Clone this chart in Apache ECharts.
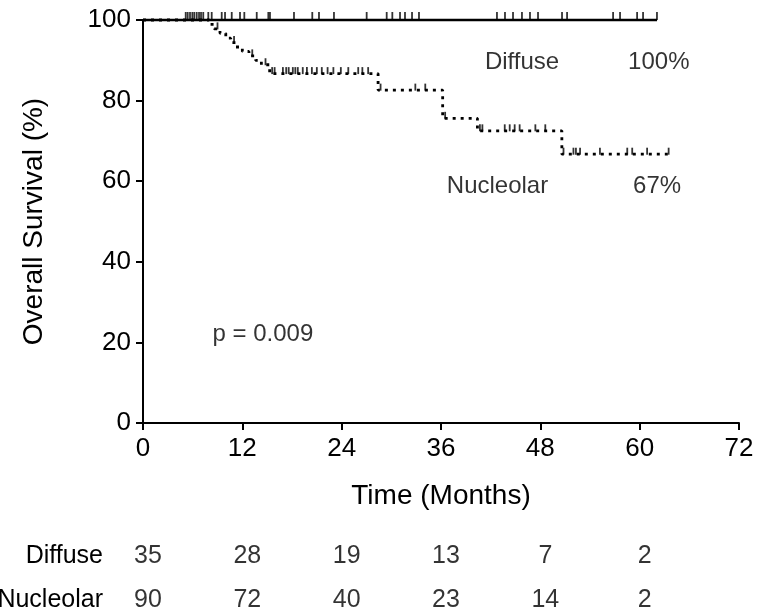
<!DOCTYPE html>
<html>
<head>
<meta charset="utf-8">
<script src="https://cdn.jsdelivr.net/npm/echarts@6/dist/echarts.min.js"></script>
<style>
html,body{margin:0;padding:0;background:#fff;}
#chart{width:767px;height:612px;}
</style>
</head>
<body>
<div id="chart"></div>
<script>
// ---- data ----
const xTicks = [0, 12, 24, 36, 48, 60, 72];
const diffuseTimes = [0, 62.1];
const diffuseSurv = [100, 100];
const diffuseCensor = [5.16, 5.40, 5.68, 5.96, 6.20, 6.49, 6.77, 7.01, 7.28, 7.89, 8.30, 9.51, 9.91, 10.72, 11.72,
  12.24, 13.74, 15.14, 15.34, 18.24, 20.45, 21.26, 23.07, 27.02, 29.44, 30.12, 31.05, 31.65, 32.50, 33.34,
  42.76, 43.73, 44.70, 45.78, 46.75, 47.72, 50.62, 51.23, 56.79, 57.63, 59.69, 60.41, 62.09];
const nucTimes = [0, 8.0, 8.6, 9.3, 10.0, 10.6, 11.2, 12.0, 12.8, 13.6, 14.3, 15.3, 28.4, 36.2, 40.4, 50.6, 63.7];
const nucSurv = [100, 98.9, 97.8, 96.7, 95.5, 94.4, 93.3, 92.2, 91.1, 90.0, 88.9, 86.7, 82.6, 75.6, 72.5, 66.7, 66.7];
const nucCensor = [9.0, 11.0, 13.2, 14.8, 15.6, 15.9, 16.9, 17.3, 17.6, 18.1, 18.4, 18.7, 19.3, 19.8, 20.4, 21.0, 21.6,
  22.3, 23.0, 23.9, 24.8, 26.0, 26.5, 27.2, 28.7, 32.9, 34.1, 36.5, 40.7, 41.0, 43.7, 44.3, 44.9, 45.5, 47.4, 48.6,
  50.8, 52.0, 52.3, 52.8, 55.2, 58.5, 59.1, 60.9, 63.5];
const riskTimes = [0, 12, 24, 36, 48, 60];
const riskGroups = ['Diffuse', 'Nucleolar'];
const riskDiffuse = [35, 28, 19, 13, 7, 2];
const riskNucleolar = [90, 72, 40, 23, 14, 2];
const annotTexts = ['Diffuse', '100%', 'Nucleolar', '67%', 'p = 0.009'];
const annotX = [41.3, 58.6, 36.7, 59.2, 8.4];
const annotY = [89.5, 89.5, 58.8, 58.8, 21.9];

// ---- helpers ----
function kmAt(times, surv, t) {
  let s = surv[0];
  for (let i = 0; i < times.length; i++) { if (times[i] <= t) s = surv[i]; }
  return s;
}
const FONT = '"Liberation Sans", Arial, Helvetica, sans-serif';
const INK = '#000';

const chart = echarts.init(document.getElementById('chart'), null, {renderer: 'canvas'});
const option = {
  animation: false,
  backgroundColor: '#fff',
  textStyle: {fontFamily: FONT, color: INK},
  grid: [
    {left: 143, right: 28, top: 20, bottom: 189, containLabel: false, outerBoundsMode: 'none'},
    {left: 143, right: 28, top: 556, height: 44, containLabel: false, outerBoundsMode: 'none'}
  ],
  xAxis: [
    {type: 'value', gridIndex: 0, min: 0, max: 72, interval: 12,
     name: 'Time (Months)', nameLocation: 'middle', nameGap: 59,
     nameTextStyle: {fontSize: 28, color: INK, fontFamily: FONT},
     axisLine: {show: true, lineStyle: {color: INK, width: 2}},
     axisTick: {show: true, length: 7, lineStyle: {color: INK, width: 2}},
     axisLabel: {fontSize: 26, color: INK, margin: 13, fontFamily: FONT},
     splitLine: {show: false}},
    {type: 'value', gridIndex: 1, min: 0, max: 72, interval: 12, show: false}
  ],
  yAxis: [
    {type: 'value', gridIndex: 0, min: 0, max: 100, interval: 20,
     name: 'Overall Survival (%)', nameLocation: 'middle', nameGap: 95,
     nameTextStyle: {fontSize: 28, color: INK, fontFamily: FONT},
     axisLine: {show: true, lineStyle: {color: INK, width: 2}},
     axisTick: {show: true, length: 7, lineStyle: {color: INK, width: 2}},
     axisLabel: {fontSize: 26, color: INK, margin: 12, fontFamily: FONT},
     splitLine: {show: false}},
    {type: 'category', gridIndex: 1, data: riskGroups, inverse: true, boundaryGap: false,
     axisLine: {show: false}, axisTick: {show: false},
     axisLabel: {fontSize: 25, color: INK, margin: 40, fontFamily: FONT},
     splitLine: {show: false}}
  ],
  series: [
    {type: 'line', name: 'Diffuse', xAxisIndex: 0, yAxisIndex: 0, step: 'end', showSymbol: false, symbol: 'none', clip: false,
     lineStyle: {color: INK, width: 2.5},
     data: diffuseTimes.map((t, i) => [t, diffuseSurv[i]])},
    {type: 'scatter', name: 'Diffuse censored', xAxisIndex: 0, yAxisIndex: 0, clip: false,
     symbol: 'rect', symbolSize: [1.8, 8], symbolOffset: [0, -4],
     itemStyle: {color: INK},
     data: diffuseCensor.map(t => [t, kmAt(diffuseTimes, diffuseSurv, t)])},
    {type: 'line', name: 'Nucleolar', xAxisIndex: 0, yAxisIndex: 0, step: 'end', showSymbol: false, symbol: 'none', clip: false,
     lineStyle: {color: INK, width: 2.8, type: [3, 5]},
     data: nucTimes.map((t, i) => [t, nucSurv[i]])},
    {type: 'scatter', name: 'Nucleolar censored', xAxisIndex: 0, yAxisIndex: 0, clip: false,
     symbol: 'rect', symbolSize: [1.8, 7], symbolOffset: [0, -3],
     itemStyle: {color: INK},
     data: nucCensor.map(t => [t, kmAt(nucTimes, nucSurv, t)])},
    {type: 'scatter', name: 'annotations', xAxisIndex: 0, yAxisIndex: 0, clip: false,
     symbolSize: 0.01, itemStyle: {color: 'rgba(0,0,0,0)'},
     label: {show: true, position: 'right', distance: 0, fontSize: 24, color: INK, fontFamily: FONT,
             formatter: p => p.data[2]},
     data: annotTexts.map((s, i) => [annotX[i], annotY[i], s])},
    {type: 'scatter', name: 'risk', xAxisIndex: 1, yAxisIndex: 1, clip: false,
     symbolSize: 0.01, itemStyle: {color: 'rgba(0,0,0,0)'},
     label: {show: true, position: 'inside', offset: [5, 0], fontSize: 25, color: INK, fontFamily: FONT,
             formatter: p => String(p.data[2])},
     data: riskTimes.map((t, i) => [t, 0, riskDiffuse[i]]).concat(riskTimes.map((t, i) => [t, 1, riskNucleolar[i]]))}
  ]
};
chart.setOption(option);
</script>
</body>
</html>
